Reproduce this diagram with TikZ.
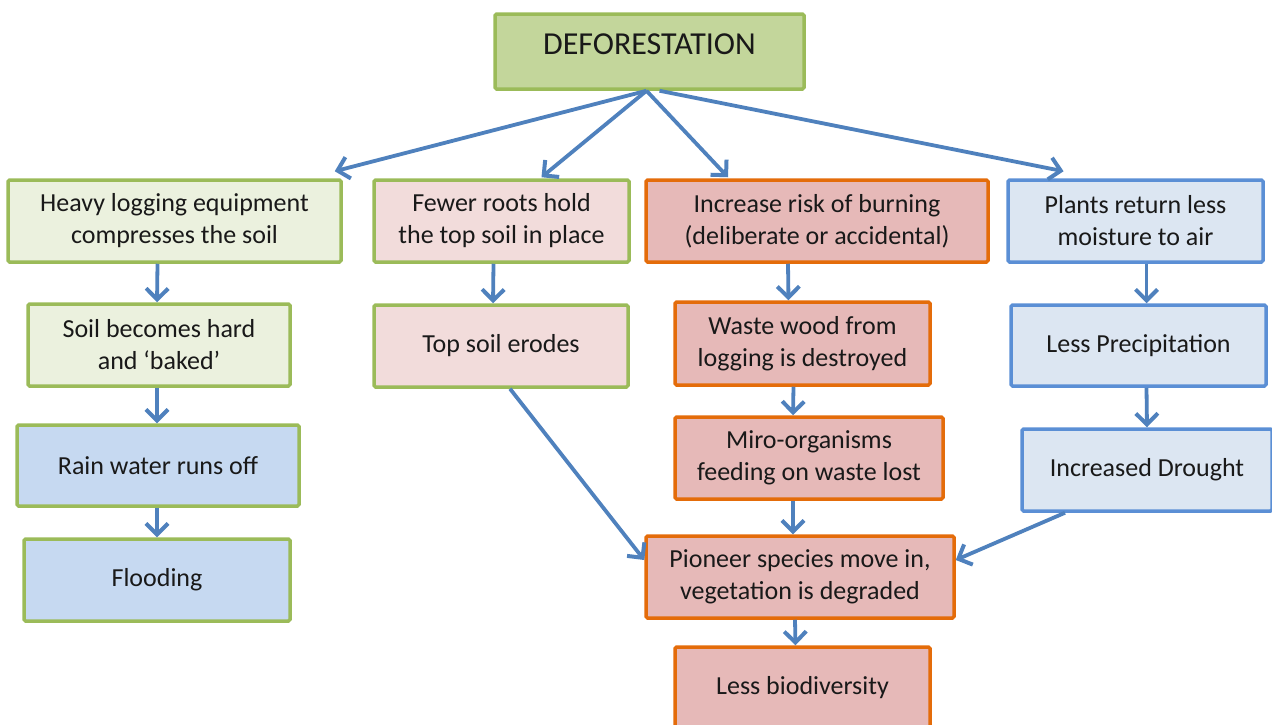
\documentclass[tikz,border=0pt]{standalone}
\usepackage{fontspec}
\setmainfont{Carlito}
\usetikzlibrary{arrows.meta,calc}
\definecolor{gborder}{HTML}{9BBB59}
\definecolor{oborder}{HTML}{E46C0A}
\definecolor{bborder}{HTML}{5B8FD5}
\definecolor{titlefill}{HTML}{C3D69B}
\definecolor{gfill}{HTML}{EBF1DE}
\definecolor{pfill}{HTML}{F2DCDB}
\definecolor{rfill}{HTML}{E6B9B8}
\definecolor{lbfill}{HTML}{DCE6F2}
\definecolor{mbfill}{HTML}{C6D9F1}
\definecolor{arrowc}{HTML}{4F81BD}
\begin{document}
\begin{tikzpicture}[x=1pt,y=-1pt,
  box/.style={draw, line width=3.5pt, rounded corners=1.5pt, align=center, inner sep=0pt,
    font=\fontsize{26}{32}\selectfont, text=black!90},
  gbox/.style={box, draw=gborder},
  obox/.style={box, draw=oborder, fill=rfill},
  bbox/.style={box, draw=bborder, fill=lbfill},
  arr/.style={draw=arrowc, line width=3.8pt, -{Straight Barb[length=11pt,width=22pt,line width=4pt]}}
]
\useasboundingbox (0,0) rectangle (1272,724);
% title
\node[box, draw=gborder, fill=titlefill, minimum width=309pt, minimum height=75pt] (def) at (649.5,51.5) {};
\node[font=\fontsize{32}{38}\selectfont, text=black!90, inner sep=0pt] (deftext) at (649.5,44) {DEFORESTATION};
% row 1
\node[gbox, fill=gfill, minimum width=333pt, minimum height=82pt] (heavy) at (174.5,221) {Heavy logging equipment\\compresses the soil};
\node[gbox, fill=pfill, minimum width=255pt, minimum height=82pt] (fewer) at (501.5,221) {Fewer roots hold\\the top soil in place};
\node[obox, minimum width=342pt, minimum height=82pt] (incr) at (817,221) {Increase risk of burning\\(deliberate or accidental)};
\node[bbox, minimum width=255pt, minimum height=82pt] (plants) at (1135.5,221) {Plants return less\\moisture to air};
% row 2
\node[gbox, fill=gfill, minimum width=262pt, minimum height=82pt] (hard) at (159,345) {Soil becomes hard\\and `baked'};
\node[gbox, fill=pfill, minimum width=254pt, minimum height=82pt] (erode) at (501,346) {Top soil erodes};
\node[obox, minimum width=255pt, minimum height=83pt] (waste) at (802.5,343.5) {Waste wood from\\logging is destroyed};
\node[bbox, minimum width=255pt, minimum height=81pt] (precip) at (1138.5,345.5) {Less Precipitation};
% row 3
\node[gbox, fill=mbfill, minimum width=282pt, minimum height=81pt] (rain) at (158,465.5) {Rain water runs off};
\node[obox, minimum width=268pt, minimum height=82pt] (miro) at (809,458) {Miro-organisms\\feeding on waste lost};
\node[bbox, minimum width=250pt, minimum height=82pt] (drought) at (1147,470) {Increased Drought};
% row 4
\node[gbox, fill=mbfill, minimum width=266pt, minimum height=82pt] (flood) at (157,580) {Flooding};
\node[obox, minimum width=308pt, minimum height=82pt] (pioneer) at (800,577) {Pioneer species move in,\\vegetation is degraded};
\node[obox, minimum width=255pt, minimum height=82pt] (biodiv) at (802.5,688) {Less biodiversity};
% fan arrows
\draw[arr] ([xshift=-3pt]def.south) -- ([xshift=-8pt,yshift=7pt]heavy.north east);
\draw[arr] ([xshift=-3pt]def.south) -- ([xshift=40pt,yshift=1pt]fewer.north);
\draw[arr] ([xshift=-3pt]def.south) -- ([xshift=-89pt,yshift=1pt]incr.north);
\draw[arr] ([xshift=10pt]def.south) -- ([xshift=-72pt,yshift=7pt]plants.north);
% vertical arrows
\draw[arr] ([xshift=-17pt]heavy.south) -- ([xshift=-2pt]hard.north);
\draw[arr] ([xshift=-2pt]hard.south) -- ([xshift=-1pt]rain.north);
\draw[arr] ([xshift=-1pt]rain.south) -- (flood.north);
\draw[arr] ([xshift=-8pt]fewer.south) -- ([xshift=-8pt]erode.north);
\draw[arr] ([xshift=-29pt]incr.south) -- ([xshift=-14pt]waste.north);
\draw[arr] ([xshift=-9pt]waste.south) -- ([xshift=-16pt]miro.north);
\draw[arr] ([xshift=-16pt]miro.south) -- ([xshift=-7pt]pioneer.north);
\draw[arr] ([xshift=-5pt]pioneer.south) -- ([xshift=-7pt]biodiv.north);
\draw[arr] ([xshift=11pt]plants.south) -- ([xshift=8pt]precip.north);
\draw[arr] ([xshift=8pt]precip.south) -- (drought.north);
% cross arrows
\draw[arr] ([xshift=9pt]erode.south) -- ([yshift=17pt]pioneer.west);
\draw[arr] ([xshift=-82pt]drought.south) -- ([yshift=17pt]pioneer.east);
\end{tikzpicture}
\end{document}
